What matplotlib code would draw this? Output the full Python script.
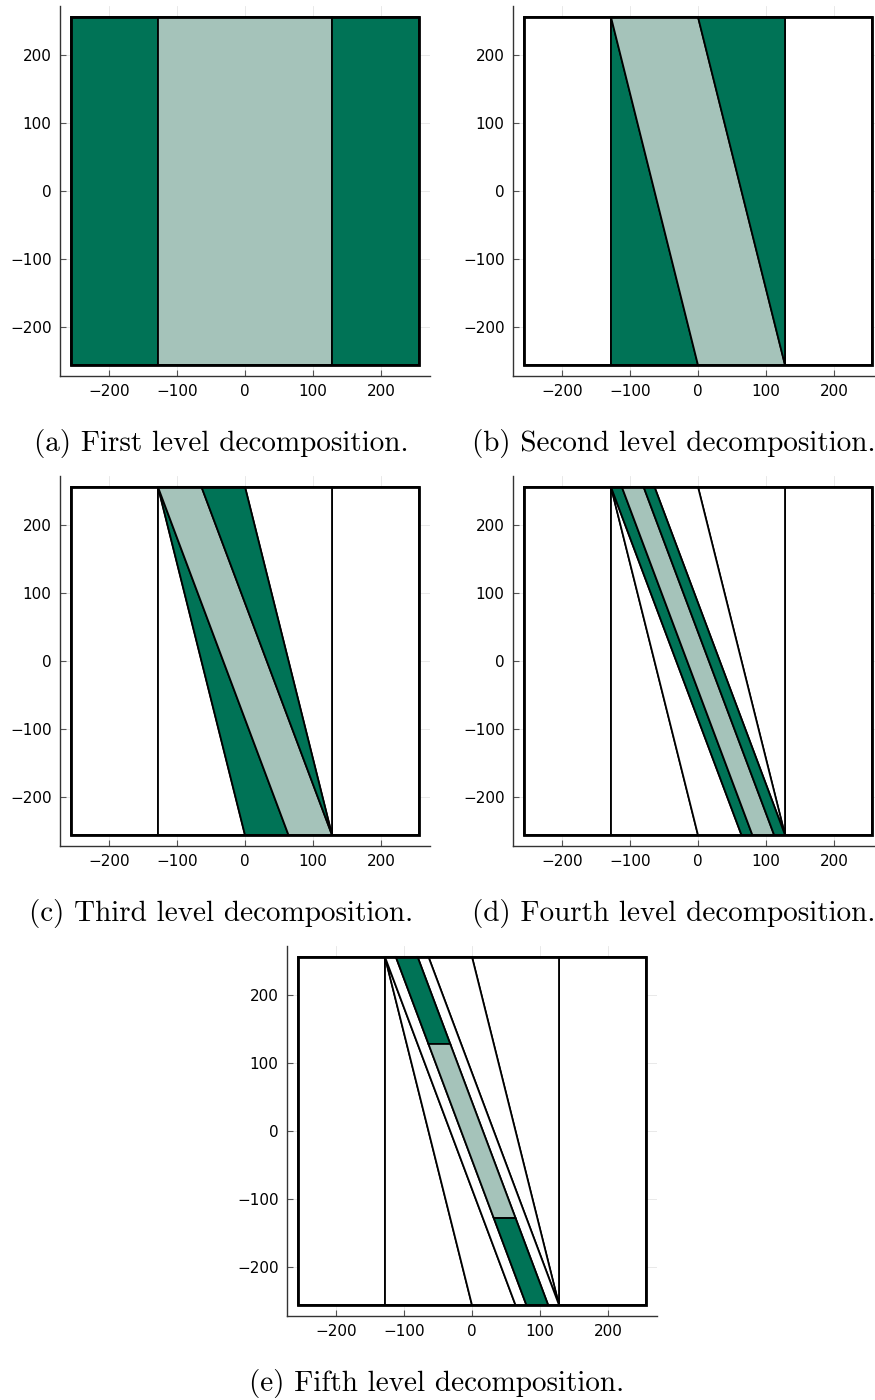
import matplotlib
matplotlib.use("Agg")
import matplotlib.pyplot as plt
from matplotlib.patches import Polygon, Rectangle

DARK = "#007356"
LIGHT = "#A5C3BA"

# cells produced at each refinement step: (left, middle, right)
strip_left = [(-256, -256), (-128, -256), (-128, 256), (-256, 256)]
strip_mid = [(-128, -256), (128, -256), (128, 256), (-128, 256)]
strip_right = [(128, -256), (256, -256), (256, 256), (128, 256)]

tri2_left = [(-128, 256), (-128, -256), (0, -256)]
par2_mid = [(-128, 256), (0, 256), (128, -256), (0, -256)]
tri2_right = [(0, 256), (128, 256), (128, -256)]

tri3_left = [(-128, 256), (0, -256), (64, -256)]
par3_mid = [(-128, 256), (-64, 256), (128, -256), (64, -256)]
tri3_right = [(-64, 256), (0, 256), (128, -256)]

par4_left = [(-128, 256), (-112, 256), (80, -256), (64, -256)]
par4_mid = [(-112, 256), (-80, 256), (112, -256), (80, -256)]
par4_right = [(-80, 256), (-64, 256), (128, -256), (112, -256)]

par5_top = [(-112, 256), (-80, 256), (-32, 128), (-64, 128)]
par5_mid = [(-64, 128), (-32, 128), (64, -128), (32, -128)]
par5_bot = [(32, -128), (64, -128), (112, -256), (80, -256)]

splits = [
	(strip_left, strip_mid, strip_right),
	(tri2_left, par2_mid, tri2_right),
	(tri3_left, par3_mid, tri3_right),
	(par4_left, par4_mid, par4_right),
	(par5_top, par5_mid, par5_bot),
]

captions = [
	"(a) First level decomposition.",
	"(b) Second level decomposition.",
	"(c) Third level decomposition.",
	"(d) Fourth level decomposition.",
	"(e) Fifth level decomposition.",
]

ticks = [-200, -100, 0, 100, 200]
half = 256
lim = 272

W, H = 875, 1400
fig = plt.figure(figsize=(W / 100, H / 100), dpi=100)

# axes origin (left, top) in pixels and caption centre
panel_px = [(60, 6), (513, 6), (60, 476), (513, 476), (287, 946)]
caption_px = [(221, 443), (674, 443), (221, 913), (674, 913), (437, 1383)]
size = 370


def draw_cell(ax, verts, color):
	ax.add_patch(Polygon(verts, closed=True, facecolor=color, edgecolor="black", lw=1.3, zorder=2))


for k, split in enumerate(splits):
	x0, y0 = panel_px[k]
	ax = fig.add_axes([x0 / W, 1 - (y0 + size) / H, size / W, size / H])

	# cells left over from earlier levels are drawn white
	for j in range(k):
		draw_cell(ax, splits[j][0], "white")
		draw_cell(ax, splits[j][2], "white")
	draw_cell(ax, split[0], DARK)
	draw_cell(ax, split[1], LIGHT)
	draw_cell(ax, split[2], DARK)

	ax.add_patch(Rectangle((-half, -half), 2 * half, 2 * half, fill=False, edgecolor="black", lw=2.0, zorder=3))

	ax.set_xlim(-lim, lim)
	ax.set_ylim(-lim, lim)
	ax.set_xticks(ticks)
	ax.set_yticks(ticks)
	ax.grid(True, color="black", alpha=0.1, lw=0.6)
	ax.set_axisbelow(True)
	for s in ("top", "right"):
		ax.spines[s].set_visible(False)
	for s in ("left", "bottom"):
		ax.spines[s].set_color("#333333")
		ax.spines[s].set_linewidth(1.0)
	ax.tick_params(direction="in", length=4, width=0.8, color="#555555", labelsize=11, pad=6)

	cx, cy = caption_px[k]
	fig.text(cx / W, 1 - cy / H, captions[k], ha="center", va="center", fontsize=21, family="cmr10")

fig.savefig("out.png", dpi=100)
